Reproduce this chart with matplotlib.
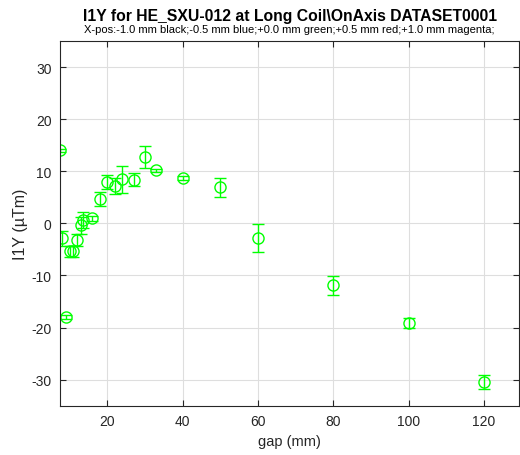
from matplotlib import pyplot as plt
import numpy as np

plt.rcParams['font.family'] = ['Liberation Sans', 'DejaVu Sans']
plt.rcParams['axes.unicode_minus'] = False

# gap (mm), I1Y (uTm), error bar half-length
gap = [7.5, 8, 9, 10, 11, 12, 13, 13.6, 16, 18, 20, 22, 24, 27, 30, 33, 40, 50, 60, 80, 100, 120]
i1y = [14.0, -2.9, -17.9, -5.4, -5.4, -3.2, -0.4, 0.6, 1.0, 4.7, 7.9, 7.2, 8.5, 8.4, 12.8, 10.2, 8.7, 6.9, -2.8, -11.9, -19.1, -30.4]
err = [0.3, 1.4, 0.4, 1.1, 1.1, 1.2, 1.6, 1.5, 0.5, 1.3, 1.4, 1.5, 2.6, 1.3, 2.1, 0.3, 0.3, 1.8, 2.7, 1.8, 0.9, 1.3]

title = 'I1Y for HE_SXU-012 at Long Coil\\OnAxis DATASET0001'
subtitle = 'X-pos:-1.0 mm black;-0.5 mm blue;+0.0 mm green;+0.5 mm red;+1.0 mm magenta;'

fig = plt.figure(figsize=(5.2, 4.56), dpi=100)
ax = fig.add_axes([0.115, 0.108, 0.883, 0.8])

ax.errorbar(gap, i1y, yerr=err, fmt='o', color='#00ff00', mfc='none',
            markersize=8, markeredgewidth=1, elinewidth=1, capsize=4, capthick=1)

ax.set_xlim(7.4, 129.3)
ax.set_ylim(-35, 35)
ax.set_xticks([20, 40, 60, 80, 100, 120])
ax.set_yticks([-30, -20, -10, 0, 10, 20, 30])
ax.grid(True, color='#dedede', linewidth=0.8)
ax.set_axisbelow(True)
ax.tick_params(direction='in', length=4, labelsize=10, colors='#262626', top=True, right=True, pad=6)
for s in ax.spines.values():
    s.set_color('#262626')
    s.set_linewidth(0.8)

ax.set_xlabel('gap (mm)', fontsize=10.5, color='#262626')
ax.set_ylabel('I1Y (µTm)', fontsize=11.5, color='#262626', labelpad=2)

fig.text(0.557, 0.955, title, ha='center', va='baseline', fontsize=11.3, fontweight='bold', color='black')
fig.text(0.557, 0.946, subtitle, ha='center', va='top', fontsize=8, color='black')

fig.savefig('out.png', dpi=100)
